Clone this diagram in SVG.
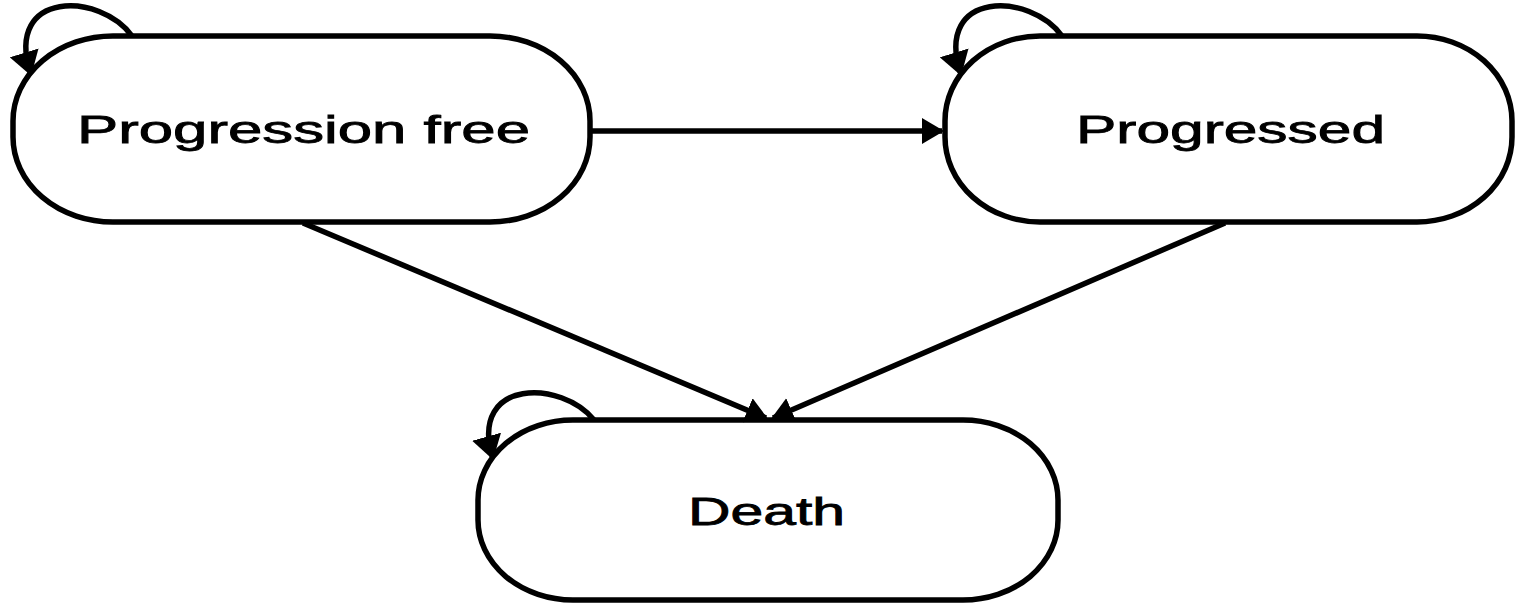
<svg xmlns="http://www.w3.org/2000/svg" width="1518" height="603" viewBox="0 0 1518 603">
<style>
.node rect{fill:#fff;stroke:#000;stroke-width:5.5}
.node text{font-family:"Liberation Sans",Arial,sans-serif;font-size:39px;fill:#000;stroke:#000;stroke-width:0.8;text-anchor:middle}
.edge{fill:none;stroke:#000;stroke-width:5.5;marker-end:url(#ah)}
.loop{fill:none;stroke:#000;stroke-width:5.5;marker-end:url(#ah2)}
</style>
<defs>
<marker id="ah" viewBox="0 0 22 26" refX="20" refY="13" markerWidth="22" markerHeight="26" markerUnits="userSpaceOnUse" orient="auto">
<path d="M0,0 L22,13 L0,26 z" fill="#000"/>
</marker>
<marker id="ah2" viewBox="0 0 24 30" refX="20" refY="15" markerWidth="24" markerHeight="30" markerUnits="userSpaceOnUse" orient="auto">
<path d="M0,0 L24,15 L0,30 z" fill="#000"/>
</marker>
</defs>
<g id="node-progression-free" class="node">
<rect x="13" y="36" width="577" height="186" rx="100" ry="85"/>
<text x="303.5" y="143" textLength="453" lengthAdjust="spacingAndGlyphs">Progression free</text>
</g>
<g id="node-progressed" class="node">
<rect x="945" y="36" width="567" height="186" rx="95" ry="85"/>
<text x="1230.5" y="143" textLength="309" lengthAdjust="spacingAndGlyphs">Progressed</text>
</g>
<g id="node-death" class="node">
<rect x="478" y="420" width="580" height="180" rx="95" ry="80"/>
<text x="766.5" y="525" textLength="157" lengthAdjust="spacingAndGlyphs">Death</text>
</g>
<g id="connectors">
<path class="edge" d="M592,131 L942,131"/>
<path class="edge" d="M303,223 L766,418"/>
<path class="edge" d="M1225,223 L773,418"/>
<path class="loop" d="M132,36 C100,-8 5,-10 30,72"/>
<path class="loop" d="M1062,36 C1030,-8 935,-10 960,72"/>
<path class="loop" d="M594,420 C562,380 470,378 492,456"/>
</g>
</svg>
